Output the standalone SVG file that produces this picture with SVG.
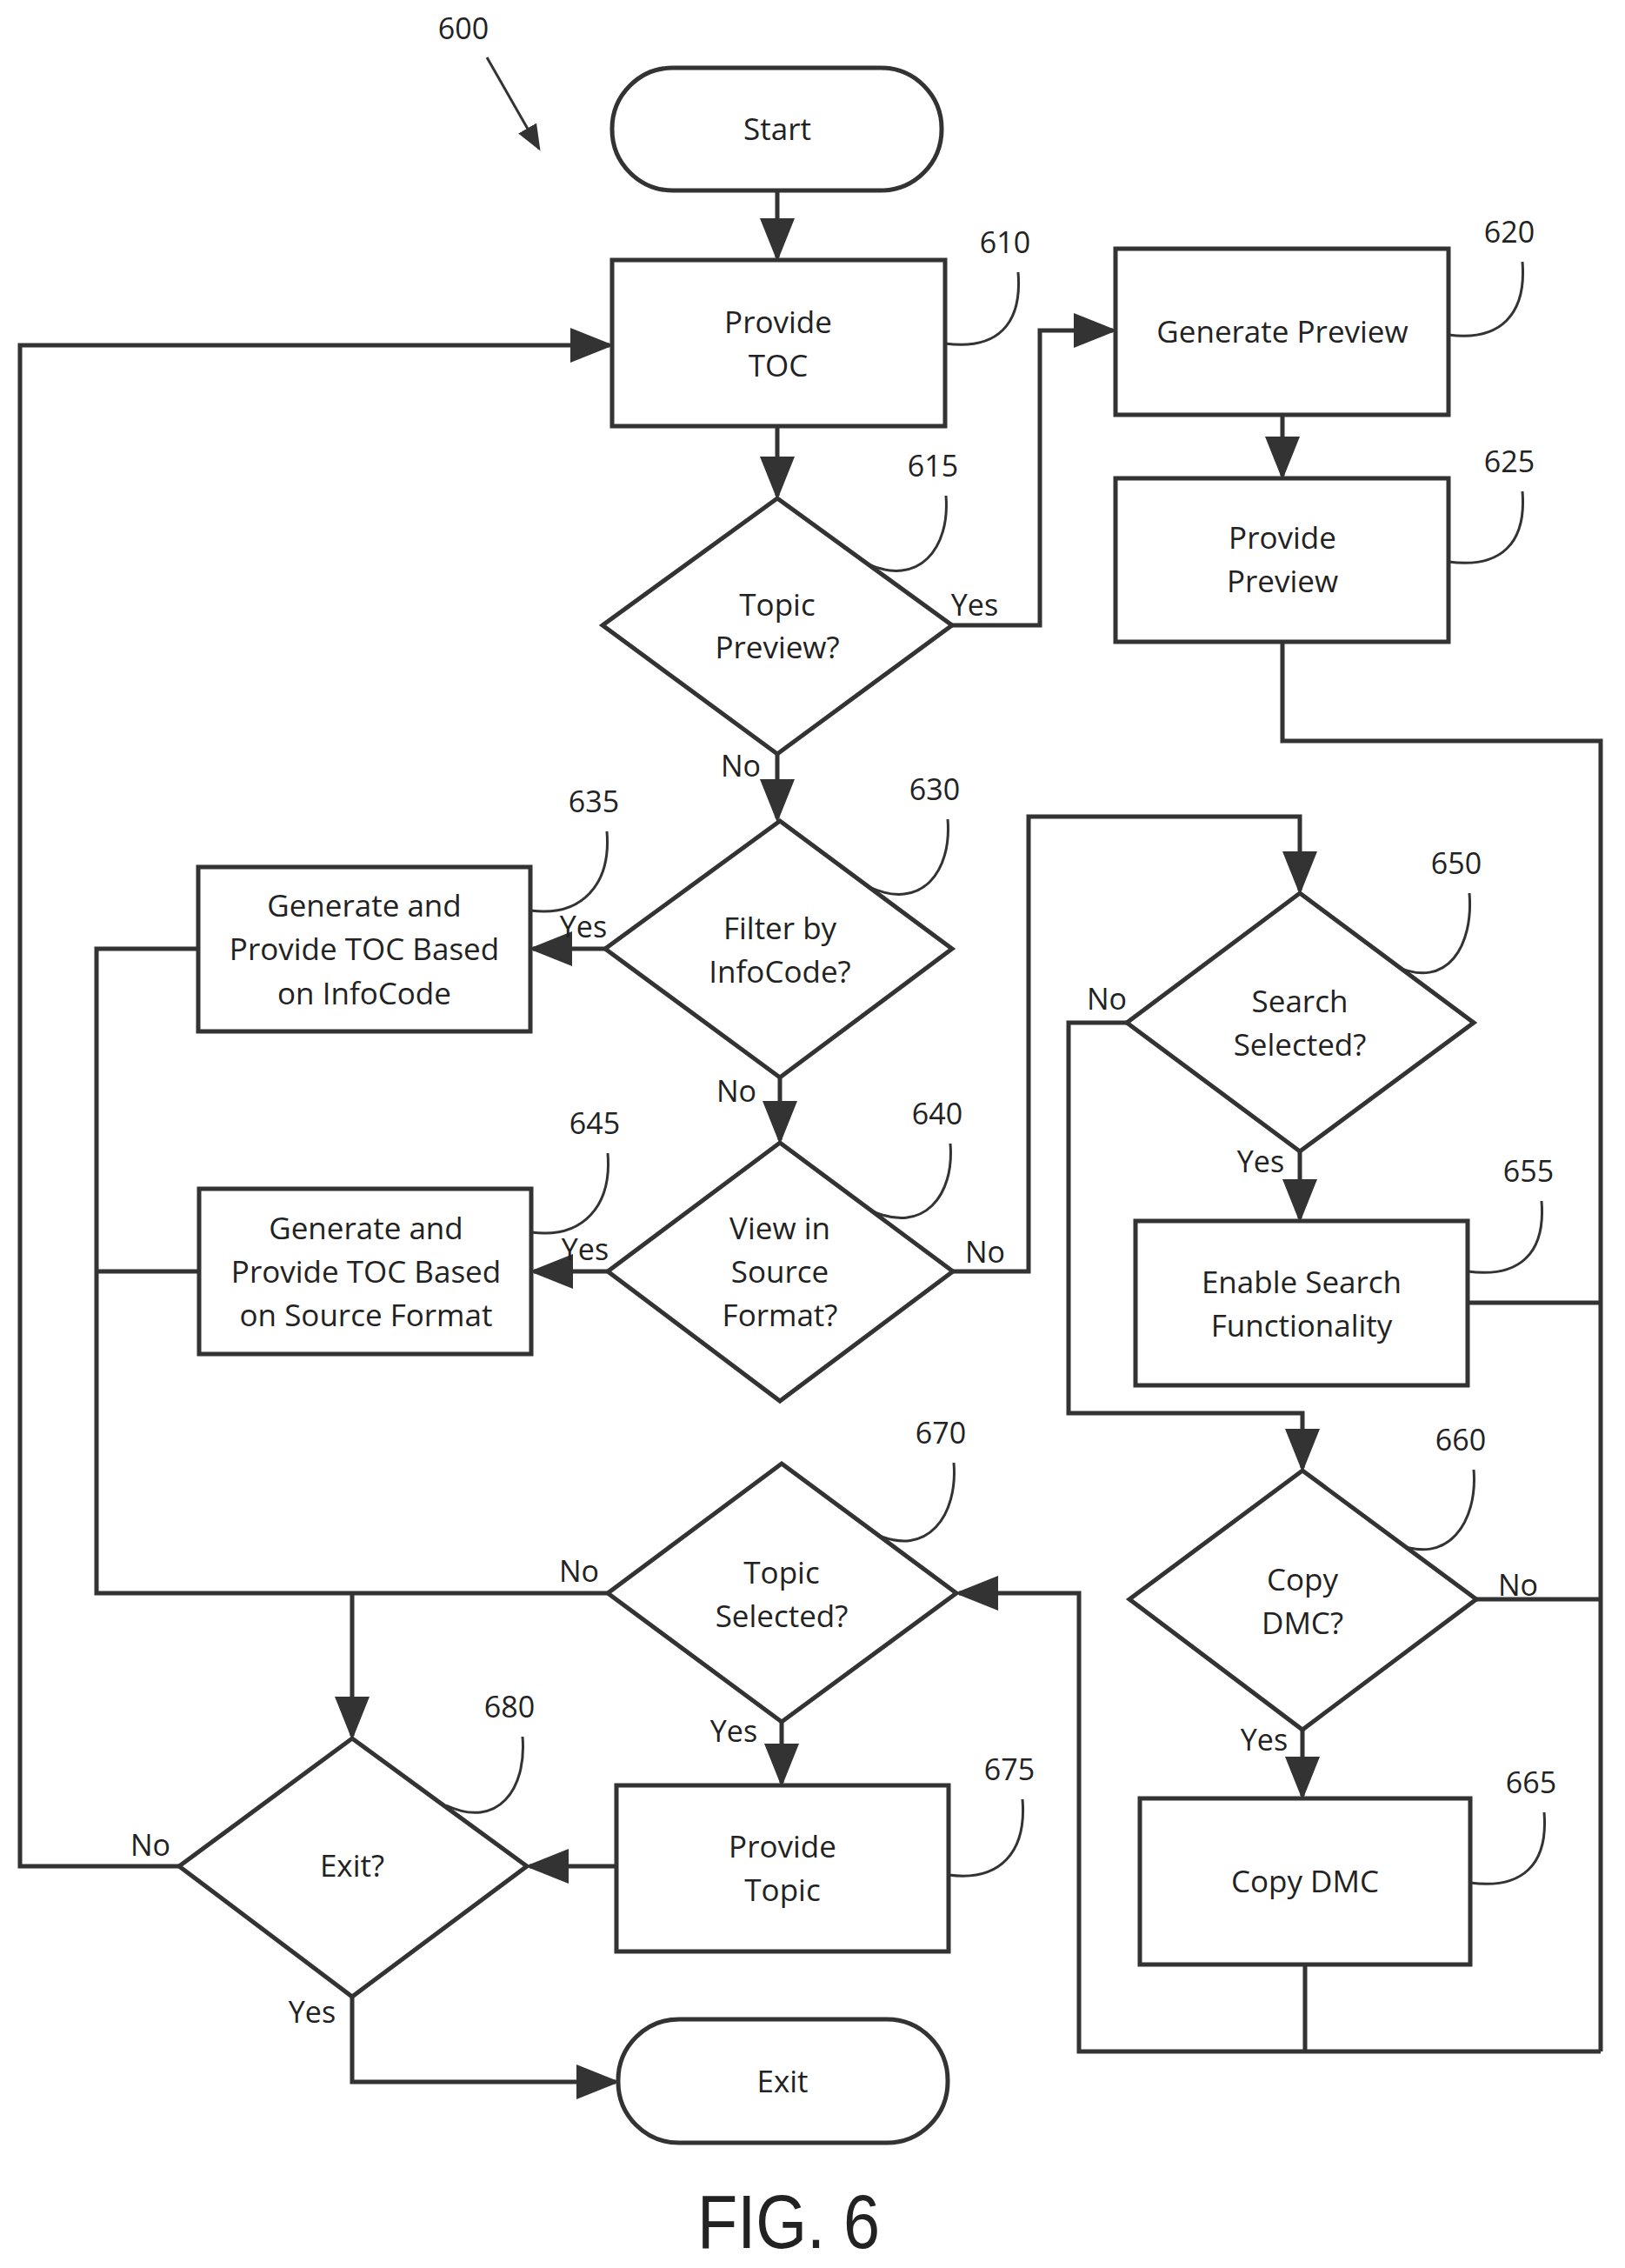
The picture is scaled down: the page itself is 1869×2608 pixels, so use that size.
<svg xmlns="http://www.w3.org/2000/svg" width="1869" height="2608" viewBox="0 0 1869 2608">
<style>
.s{fill:#fff;stroke:#333;stroke-width:5}
.c{fill:none;stroke:#333;stroke-width:5}
.r{fill:none;stroke:#333;stroke-width:3}
text{font-family:"Open Sans","Liberation Sans",sans-serif;fill:#222}
.t{font-size:35px;text-anchor:middle}
.n{font-size:34px;text-anchor:middle}
.l{font-size:34px;text-anchor:middle}
</style>
<defs><marker id="a" markerWidth="10" markerHeight="8" refX="9" refY="4" orient="auto" markerUnits="strokeWidth"><path d="M0,0L10,4L0,8z" fill="#333"/></marker></defs>
<rect width="1869" height="2608" fill="#fff"/>
<g id="connectors">
<path class="c" marker-end="url(#a)" d="M894,219V296"/>
<path class="c" marker-end="url(#a)" d="M206,2146H23V397H701"/>
<path class="c" marker-end="url(#a)" d="M894,490V570"/>
<path class="c" marker-end="url(#a)" d="M1095,719H1196V380H1280"/>
<path class="c" marker-end="url(#a)" d="M1475,477V547"/>
<path class="c" d="M1475,738V852H1841V2359"/>
<path class="c" d="M1688,1498H1841M1698,1839H1841M1501,2259V2359"/>
<path class="c" marker-end="url(#a)" d="M1841,2359H1241V1832H1103"/>
<path class="c" marker-end="url(#a)" d="M894,867V941"/>
<path class="c" marker-end="url(#a)" d="M696,1091H613"/>
<path class="c" marker-end="url(#a)" d="M897,1239V1311"/>
<path class="c" marker-end="url(#a)" d="M699,1462H614"/>
<path class="c" marker-end="url(#a)" d="M1096,1462H1183V939H1495V1024"/>
<path class="c" marker-end="url(#a)" d="M1296,1176H1229V1625H1498V1688"/>
<path class="c" marker-end="url(#a)" d="M1495,1324V1401"/>
<path class="c" marker-end="url(#a)" d="M1498,1989V2065"/>
<path class="c" d="M228,1091H111V1832H699M229,1462H111"/>
<path class="c" marker-end="url(#a)" d="M405,1832V1996"/>
<path class="c" marker-end="url(#a)" d="M899,1980V2050"/>
<path class="c" marker-end="url(#a)" d="M709,2146H609"/>
<path class="c" marker-end="url(#a)" d="M405,2296V2394H708"/>
<path class="r" marker-end="url(#a)" d="M560,66L620,171"/>
<path class="r" d="M1087,395C1147,403 1176,373 1171,313M1666,385C1726,393 1756,361 1751,301M997,648C1057,676 1093,630 1088,570M1666,646C1726,654 1756,625 1751,565M1000,1020C1060,1048 1095,1002 1090,942M610,1047C670,1055 703,1016 698,956M1002,1392C1062,1420 1098,1375 1093,1315M611,1417C671,1425 704,1386 699,1326M1605,1111C1665,1139 1695,1087 1690,1027M1688,1462C1748,1470 1778,1441 1773,1381M1605,1774C1665,1802 1700,1750 1695,1690M1007,1764C1067,1792 1102,1742 1097,1682M1091,2156C1151,2164 1181,2129 1176,2069M513,2076C573,2104 606,2057 601,1997M1691,2165C1751,2173 1781,2144 1776,2084"/>
<g class="l">
<text x="1121" y="708">Yes</text><text x="852" y="893">No</text>
<text x="671" y="1078">Yes</text><text x="847" y="1267">No</text>
<text x="673" y="1449">Yes</text><text x="1133" y="1452">No</text>
<text x="1273" y="1161">No</text><text x="1450" y="1348">Yes</text>
<text x="1454" y="2013">Yes</text><text x="1746" y="1835">No</text>
<text x="666" y="1819">No</text><text x="844" y="2003">Yes</text>
<text x="173" y="2134">No</text><text x="359" y="2326">Yes</text>
</g>
</g>
<g class="n">
<text x="533" y="45">600</text><text x="1156" y="291">610</text><text x="1736" y="279">620</text>
<text x="1073" y="548">615</text><text x="1736" y="543">625</text><text x="1075" y="920">630</text>
<text x="683" y="934">635</text><text x="1078" y="1293">640</text><text x="684" y="1304">645</text>
<text x="1675" y="1005">650</text><text x="1758" y="1359">655</text><text x="1680" y="1668">660</text>
<text x="1082" y="1660">670</text><text x="1161" y="2047">675</text><text x="586" y="1975">680</text>
<text x="1761" y="2062">665</text>
</g>
<g id="start"><rect class="s" x="704" y="78" width="379" height="141" rx="70"/><text class="t" x="894" y="161">Start</text></g>
<g id="n610"><rect class="s" x="704" y="299" width="383" height="191"/><text class="t" x="895" y="383">Provide</text><text class="t" x="895" y="433">TOC</text></g>
<g id="n620"><rect class="s" x="1283" y="286" width="383" height="191"/><text class="t" x="1475" y="394">Generate Preview</text></g>
<g id="n625"><rect class="s" x="1283" y="550" width="383" height="188"/><text class="t" x="1475" y="631">Provide</text><text class="t" x="1475" y="681">Preview</text></g>
<g id="n615"><path class="s" d="M894,573L1095,719L894,867L693,719Z"/><text class="t" x="894" y="708">Topic</text><text class="t" x="894" y="757">Preview?</text></g>
<g id="n630"><path class="s" d="M897,944L1095,1091L897,1239L696,1091Z"/><text class="t" x="897" y="1080">Filter by</text><text class="t" x="897" y="1130">InfoCode?</text></g>
<g id="n635"><rect class="s" x="228" y="997" width="382" height="189"/><text class="t" x="419" y="1054">Generate and</text><text class="t" x="419" y="1104">Provide TOC Based</text><text class="t" x="419" y="1155">on InfoCode</text></g>
<g id="n640"><path class="s" d="M897,1314L1096,1462L897,1611L699,1462Z"/><text class="t" x="897" y="1425">View in</text><text class="t" x="897" y="1475">Source</text><text class="t" x="897" y="1525">Format?</text></g>
<g id="n645"><rect class="s" x="229" y="1367" width="382" height="190"/><text class="t" x="421" y="1425">Generate and</text><text class="t" x="421" y="1475">Provide TOC Based</text><text class="t" x="421" y="1525">on Source Format</text></g>
<g id="n650"><path class="s" d="M1495,1027L1695,1176L1495,1324L1296,1176Z"/><text class="t" x="1495" y="1164">Search</text><text class="t" x="1495" y="1214">Selected?</text></g>
<g id="n655"><rect class="s" x="1306" y="1404" width="382" height="189"/><text class="t" x="1497" y="1487">Enable Search</text><text class="t" x="1497" y="1537">Functionality</text></g>
<g id="n660"><path class="s" d="M1498,1691L1698,1839L1498,1989L1299,1839Z"/><text class="t" x="1498" y="1829">Copy</text><text class="t" x="1498" y="1879">DMC?</text></g>
<g id="n665"><rect class="s" x="1311" y="2068" width="380" height="191"/><text class="t" x="1501" y="2176">Copy DMC</text></g>
<g id="n670"><path class="s" d="M899,1683L1100,1832L899,1980L699,1832Z"/><text class="t" x="899" y="1821">Topic</text><text class="t" x="899" y="1871">Selected?</text></g>
<g id="n675"><rect class="s" x="709" y="2053" width="382" height="191"/><text class="t" x="900" y="2136">Provide</text><text class="t" x="900" y="2186">Topic</text></g>
<g id="n680"><path class="s" d="M405,1999L606,2146L405,2296L206,2146Z"/><text class="t" x="405" y="2158">Exit?</text></g>
<g id="exit"><rect class="s" x="711" y="2322" width="379" height="142" rx="70"/><text class="t" x="900" y="2406">Exit</text></g>
<text x="907" y="2585" style="font-size:88px;text-anchor:middle;font-family:'Liberation Sans',sans-serif" textLength="210" lengthAdjust="spacingAndGlyphs">FIG. 6</text>
</svg>
